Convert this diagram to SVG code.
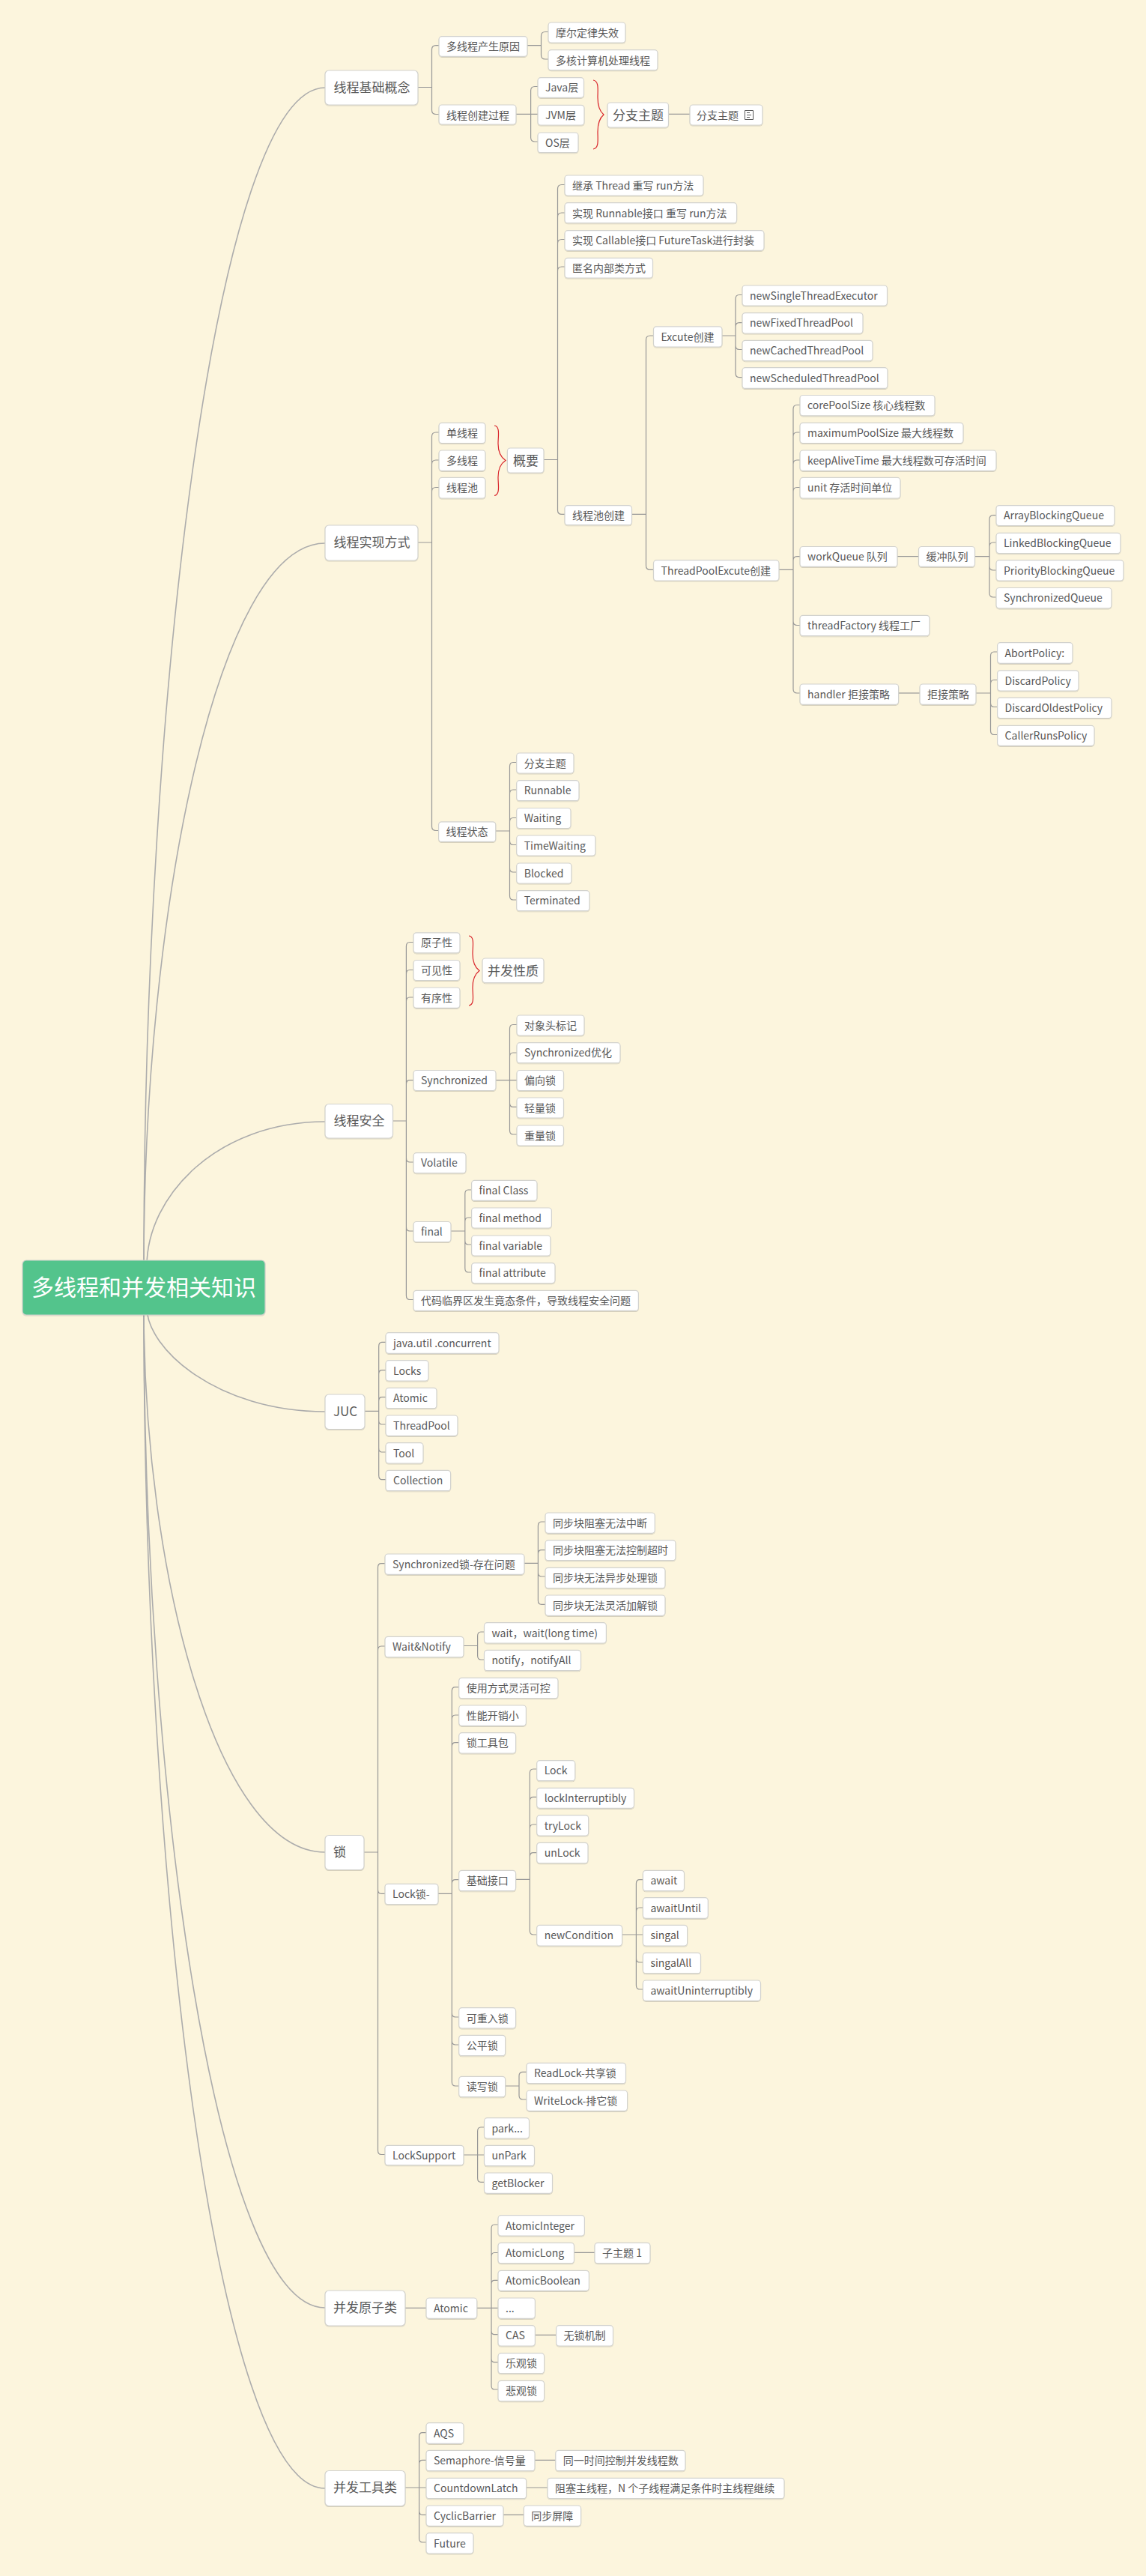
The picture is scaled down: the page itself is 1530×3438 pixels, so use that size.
<svg xmlns="http://www.w3.org/2000/svg" width="1530" height="3438" viewBox="0 0 1530 3438">
<style>
text{font-family:"Noto Sans CJK SC","Noto Sans",sans-serif;fill:#585858;font-size:14px}
.l1 text{font-size:17px}
.root text{font-size:30px;fill:#fff}
.n rect,.l1 rect{fill:#fff;stroke:#d2d2ce;stroke-width:1.2;filter:url(#sh)}
.root rect{fill:#52c48c}
#connectors path{fill:none;stroke:#979797;stroke-width:1.2}
#connectors .main{stroke:#acacac;stroke-width:1.6}
.brace{fill:none;stroke:#d9252b;stroke-width:1.2}
</style>
<defs><filter id="sh" x="-5%" y="-10%" width="110%" height="125%"><feDropShadow dx="0" dy="1" stdDeviation="0.5" flood-color="#000" flood-opacity="0.15"/></filter></defs>
<rect width="1530" height="3438" fill="#fcf5dd"/>
<g id="connectors">
<path class="main" d="M192,1690C192,919 290,117 434,117"/>
<path class="main" d="M192,1690C192,1217 290,725 434,725"/>
<path class="main" d="M196,1690C196,1596 290,1497 434,1497"/>
<path class="main" d="M196,1745C196,1800 290,1884 434,1884"/>
<path class="main" d="M192,1745C192,2101 290,2472 434,2472"/>
<path class="main" d="M192,1745C192,2399 290,3080 434,3080"/>
<path class="main" d="M192,1745C192,2517 290,3321 434,3321"/>
<path d="M558,116.5H576.5V66Q576.5,60.6 582,60.6H586M576.5,116.5V147Q576.5,152.5 582,152.5H586"/>
<path d="M704,60.6H722.5V48Q722.5,42.5 728,42.5H732M722.5,60.6V73.5Q722.5,79 728,79H732"/>
<path d="M689,152.3H718M708.6,152.3V121Q708.6,115.5 714,115.5H718M708.6,152.3V183.5Q708.6,189 714,189H718"/>
<path d="M892.5,152.3H921"/>
<path d="M558,724H576.5V582.5Q576.5,577 582,577H586M576.5,724V619.5Q576.5,614 582,614H586M576.5,724V656Q576.5,650.5 582,650.5H586M576.5,724V1103Q576.5,1108.5 582,1108.5H586"/>
<path d="M726,613.5H744.5V252Q744.5,246.5 750,246.5H754M744.5,613.5V289.5Q744.5,284 750,284H754M744.5,613.5V325Q744.5,319.5 750,319.5H754M744.5,613.5V361.5Q744.5,356 750,356H754M744.5,613.5V681Q744.5,686.4 750,686.4H754"/>
<path d="M843.5,686.4H862.5V453.5Q862.5,448 868,448H872.5M862.5,686.4V755Q862.5,760.4 868,760.4H872.5"/>
<path d="M964,448H982V399Q982,393.5 987,393.5H991M982,448V436Q982,430.6 987,430.6H991M982,448V461Q982,466.5 987,466.5H991M982,448V498Q982,503.6 987,503.6H991"/>
<path d="M1040,760.4H1059V546Q1059,540.5 1064,540.5H1068M1059,760.4V582.5Q1059,577 1064,577H1068M1059,760.4V619.5Q1059,614 1064,614H1068M1059,760.4V656Q1059,650.5 1064,650.5H1068M1059,760.4V748Q1059,742.6 1064,742.6H1068M1059,760.4V829Q1059,834.5 1064,834.5H1068M1059,760.4V919.5Q1059,925 1064,925H1068"/>
<path d="M1198,742.6H1226.5"/>
<path d="M1301.5,742.6H1321V693Q1321,687.6 1326,687.6H1330M1321,742.6V729.5Q1321,724 1326,724H1330M1321,742.6V755.5Q1321,761 1326,761H1330M1321,742.6V791.5Q1321,797 1326,797H1330"/>
<path d="M1199.6,925H1228"/>
<path d="M1303,925H1322.5V875.5Q1322.5,870 1327,870H1331.6M1322.5,925V913Q1322.5,907.5 1327,907.5H1331.6M1322.5,925V938Q1322.5,943.5 1327,943.5H1331.6M1322.5,925V975Q1322.5,980.5 1327,980.5H1331.6"/>
<path d="M662,1109H680.5V1023Q680.5,1017.5 685,1017.5H689.7M680.5,1109V1059.5Q680.5,1054 685,1054H689.7M680.5,1109V1097Q680.5,1091.5 685,1091.5H689.7M680.5,1109V1122Q680.5,1127.5 685,1127.5H689.7M680.5,1109V1158.5Q680.5,1164 685,1164H689.7M680.5,1109V1195.5Q680.5,1201 685,1201H689.7"/>
<path d="M524.4,1496H542.4V1263Q542.4,1257.5 547,1257.5H552M542.4,1496V1300Q542.4,1294.5 547,1294.5H552M542.4,1496V1336.5Q542.4,1331 547,1331H552M542.4,1496V1447Q542.4,1441.7 547,1441.7H552M542.4,1496V1545.5Q542.4,1551 547,1551H552M542.4,1496V1637.5Q542.4,1643 547,1643H552M542.4,1496V1729Q542.4,1734.5 547,1734.5H552"/>
<path d="M662,1441.7H690M680.5,1441.7V1373Q680.5,1367.5 685,1367.5H690M680.5,1441.7V1410.5Q680.5,1405 685,1405H690M680.5,1441.7V1472Q680.5,1477.4 685,1477.4H690M680.5,1441.7V1508.5Q680.5,1514 685,1514H690"/>
<path d="M602,1643H620.8V1593.5Q620.8,1588 625,1588H629.6M620.8,1643V1630.5Q620.8,1625 625,1625H629.6M620.8,1643V1655.5Q620.8,1661 625,1661H629.6M620.8,1643V1692.5Q620.8,1698 625,1698H629.6"/>
<path d="M487,1883.3H505.7V1797Q505.7,1791.3 510,1791.3H515M505.7,1883.3V1834Q505.7,1828.7 510,1828.7H515M505.7,1883.3V1870Q505.7,1864.7 510,1864.7H515M505.7,1883.3V1895.5Q505.7,1901 510,1901H515M505.7,1883.3V1932.5Q505.7,1938 510,1938H515M505.7,1883.3V1969Q505.7,1974.7 510,1974.7H515"/>
<path d="M486,2472H504.5V2092Q504.5,2086.7 509,2086.7H514M504.5,2472V2202.5Q504.5,2197 509,2197H514M504.5,2472V2522Q504.5,2527.3 509,2527.3H514M504.5,2472V2870Q504.5,2875.5 509,2875.5H514"/>
<path d="M700,2086.3H718.4V2036.5Q718.4,2031 723,2031H728M718.4,2086.3V2074Q718.4,2068.7 723,2068.7H728M718.4,2086.3V2098.5Q718.4,2104 723,2104H728M718.4,2086.3V2136Q718.4,2141.3 723,2141.3H728"/>
<path d="M619,2196.5H637.6V2183.5Q637.6,2178 642,2178H646.5M637.6,2196.5V2209.5Q637.6,2215 642,2215H646.5"/>
<path d="M585,2527.3H603.3V2257Q603.3,2251.7 608,2251.7H612.7M603.3,2527.3V2294.5Q603.3,2289 608,2289H612.7M603.3,2527.3V2331Q603.3,2325.7 608,2325.7H612.7M603.3,2527.3V2514Q603.3,2508.7 608,2508.7H612.7M603.3,2527.3V2686.5Q603.3,2692 608,2692H612.7M603.3,2527.3V2723.5Q603.3,2729 608,2729H612.7M603.3,2527.3V2778.5Q603.3,2784 608,2784H612.7"/>
<path d="M688.6,2508.3H707.3V2366.5Q707.3,2361 712,2361H716.7M707.3,2508.3V2403.5Q707.3,2398.3 712,2398.3H716.7M707.3,2508.3V2440.5Q707.3,2435 712,2435H716.7M707.3,2508.3V2478Q707.3,2472.7 712,2472.7H716.7M707.3,2508.3V2576.5Q707.3,2582 712,2582H716.7"/>
<path d="M830.6,2582H858.4M849.4,2582V2514Q849.4,2508.7 854,2508.7H858.4M849.4,2582V2551.5Q849.4,2546 854,2546H858.4M849.4,2582V2613.5Q849.4,2619 854,2619H858.4M849.4,2582V2649.5Q849.4,2655 854,2655H858.4"/>
<path d="M674.7,2784H693V2770.5Q693,2765.3 698,2765.3H703M693,2784V2796.5Q693,2802 698,2802H703"/>
<path d="M619,2876H646.5M637.6,2876V2844.5Q637.6,2839 642,2839H646.5M637.6,2876V2907Q637.6,2912.3 642,2912.3H646.5"/>
<path d="M541,3080.3H569"/>
<path d="M636.8,3080.3H665M656,3080.3V2974.5Q656,2969 660,2969H665M656,3080.3V3012Q656,3006.5 660,3006.5H665M656,3080.3V3048.5Q656,3043.3 660,3043.3H665M656,3080.3V3110.5Q656,3115.7 660,3115.7H665M656,3080.3V3147.5Q656,3152.7 660,3152.7H665M656,3080.3V3183.5Q656,3189 660,3189H665"/>
<path d="M766.5,3006.3H794M714.4,3116.3H742.6"/>
<path d="M541,3320H569M559.6,3320V3252Q559.6,3246.7 564,3246.7H569M559.6,3320V3288.5Q559.6,3283.3 564,3283.3H569M559.6,3320V3351Q559.6,3356.3 564,3356.3H569M559.6,3320V3387.5Q559.6,3393 564,3393H569"/>
<path d="M714,3283.3H741.8M702.7,3320H731M672,3356.3H699.3"/>
</g>
<path class="brace" d="M792,107C800,108 798,120 798,130C798,140 800,148 806,153C800,158 798,166 798,176C798,186 800,198 792,199"/>
<path class="brace" d="M660,568C668,569 665,582 665,592C665,602 668,610 675,614.5C668,619 665,627 665,637C665,647 668,660 660,661.5"/>
<path class="brace" d="M626,1249C634,1250 631,1263 631,1273C631,1283 634,1291 640,1295.5C634,1300 631,1308 631,1318C631,1328 634,1341 626,1342"/>
<g id="root" class="l1 root"><rect x="30" y="1682" width="324" height="73" rx="5"/><text x="42" y="1729">多线程和并发相关知识</text></g>
<g id="a1" class="l1"><rect x="434" y="94" width="124" height="46" rx="5"/><text x="445.5" y="122.5">线程基础概念</text></g>
<g id="a2" class="l1"><rect x="434" y="701" width="124" height="47" rx="5"/><text x="445.5" y="730">线程实现方式</text></g>
<g id="a3" class="l1"><rect x="434" y="1473.5" width="90.5" height="45.5" rx="5"/><text x="445.5" y="1502">线程安全</text></g>
<g id="a4" class="l1"><rect x="434" y="1861" width="53" height="46.5" rx="5"/><text x="445" y="1890">JUC</text></g>
<g id="a5" class="l1"><rect x="434" y="2449.5" width="52" height="46" rx="5"/><text x="445" y="2478">锁</text></g>
<g id="a6" class="l1"><rect x="434" y="3057" width="107" height="47" rx="5"/><text x="445" y="3086">并发原子类</text></g>
<g id="a7" class="l1"><rect x="434" y="3297.5" width="107" height="47" rx="5"/><text x="445" y="3326">并发工具类</text></g>
<g id="b1" class="n"><rect x="586" y="48.7" width="118" height="26.6" rx="4"/><text x="596" y="67">多线程产生原因</text></g>
<g id="b2" class="n"><rect x="732" y="30" width="103" height="27" rx="4"/><text x="742" y="48.5">摩尔定律失效</text></g>
<g id="b3" class="n"><rect x="732" y="66.7" width="146" height="27" rx="4"/><text x="742" y="85.5">多核计算机处理线程</text></g>
<g id="b4" class="n"><rect x="586" y="140" width="103" height="26" rx="4"/><text x="596" y="158.5">线程创建过程</text></g>
<g id="b5" class="n"><rect x="718" y="103.7" width="61.5" height="26.6" rx="4"/><text x="728" y="122">Java层</text></g>
<g id="b6" class="n"><rect x="718" y="140.3" width="62" height="26.7" rx="4"/><text x="728" y="158.5">JVM层</text></g>
<g id="b7" class="n"><rect x="718" y="177" width="54" height="26.7" rx="4"/><text x="728" y="195.5">OS层</text></g>
<g id="b8" class="l1"><rect x="811" y="137" width="81.5" height="33" rx="4"/><text x="818" y="159.5">分支主题</text></g>
<g id="b9" class="n"><rect x="921" y="140" width="97" height="27" rx="4"/><text x="930" y="158.5">分支主题</text><path d="M994.5,147.5H1005.5V159.5H994.5ZM997,150.5H1001M997,153.5H1003M997,156.5H1001" fill="none" stroke="#585858" stroke-width="1"/></g>
<g id="c1" class="n"><rect x="754" y="234" width="185" height="27" rx="4"/><text x="764" y="252.5">继承 Thread 重写 run方法</text></g>
<g id="c2" class="n"><rect x="754" y="270.7" width="229.6" height="27" rx="4"/><text x="764" y="289.5">实现 Runnable接口 重写 run方法</text></g>
<g id="c3" class="n"><rect x="754" y="307.7" width="266" height="26.6" rx="4"/><text x="764" y="326">实现 Callable接口 FutureTask进行封装</text></g>
<g id="c4" class="n"><rect x="754" y="344.3" width="117.5" height="26.7" rx="4"/><text x="764" y="362.5">匿名内部类方式</text></g>
<g id="c5" class="n"><rect x="991" y="381" width="193.5" height="27" rx="4"/><text x="1001" y="399.5">newSingleThreadExecutor</text></g>
<g id="c6" class="n"><rect x="991" y="417.6" width="161" height="27.4" rx="4"/><text x="1001" y="436">newFixedThreadPool</text></g>
<g id="c7" class="n"><rect x="991" y="454.3" width="174" height="27.3" rx="4"/><text x="1001" y="473">newCachedThreadPool</text></g>
<g id="c8" class="n"><rect x="991" y="490.7" width="194" height="27.7" rx="4"/><text x="1001" y="509.5">newScheduledThreadPool</text></g>
<g id="c9" class="n"><rect x="872.5" y="435.8" width="91.5" height="27.2" rx="4"/><text x="882.5" y="454.5">Excute创建</text></g>
<g id="c10" class="n"><rect x="754" y="674.6" width="89.5" height="26.1" rx="4"/><text x="764" y="692.5">线程池创建</text></g>
<g id="c11" class="n"><rect x="872.5" y="747.7" width="167.5" height="27.3" rx="4"/><text x="882.5" y="766.5">ThreadPoolExcute创建</text></g>
<g id="c12" class="n"><rect x="1068" y="527.5" width="180" height="27.3" rx="4"/><text x="1078" y="546">corePoolSize 核心线程数</text></g>
<g id="c13" class="n"><rect x="1068" y="564.3" width="218" height="27.2" rx="4"/><text x="1078" y="583">maximumPoolSize 最大线程数</text></g>
<g id="c14" class="n"><rect x="1068" y="601" width="262" height="27.3" rx="4"/><text x="1078" y="619.5">keepAliveTime 最大线程数可存活时间</text></g>
<g id="c15" class="n"><rect x="1068" y="637.4" width="134" height="27.6" rx="4"/><text x="1078" y="656">unit 存活时间单位</text></g>
<g id="c16" class="n"><rect x="1068" y="729.5" width="130" height="26.9" rx="4"/><text x="1078" y="748">workQueue 队列</text></g>
<g id="c17" class="n"><rect x="1226.5" y="729.5" width="75" height="26.9" rx="4"/><text x="1236.5" y="748">缓冲队列</text></g>
<g id="c18" class="n"><rect x="1330" y="674.6" width="158" height="26.9" rx="4"/><text x="1340" y="693">ArrayBlockingQueue</text></g>
<g id="c19" class="n"><rect x="1330" y="711.4" width="166" height="27.2" rx="4"/><text x="1340" y="730">LinkedBlockingQueue</text></g>
<g id="c20" class="n"><rect x="1330" y="747.7" width="170" height="27.3" rx="4"/><text x="1340" y="766.5">PriorityBlockingQueue</text></g>
<g id="c21" class="n"><rect x="1330" y="784.5" width="154" height="27.3" rx="4"/><text x="1340" y="803">SynchronizedQueue</text></g>
<g id="c22" class="n"><rect x="1068" y="821.3" width="173" height="27.3" rx="4"/><text x="1078" y="840">threadFactory 线程工厂</text></g>
<g id="c23" class="n"><rect x="1068" y="913" width="131.6" height="27.3" rx="4"/><text x="1078" y="931.5">handler 拒接策略</text></g>
<g id="c24" class="n"><rect x="1228" y="913" width="75" height="27.3" rx="4"/><text x="1238" y="931.5">拒接策略</text></g>
<g id="c25" class="n"><rect x="1331.6" y="857.7" width="100.4" height="27.6" rx="4"/><text x="1341.6" y="876.5">AbortPolicy:</text></g>
<g id="c26" class="n"><rect x="1331.6" y="894.8" width="108.4" height="27.2" rx="4"/><text x="1341.6" y="913.5">DiscardPolicy</text></g>
<g id="c27" class="n"><rect x="1331.6" y="931.2" width="152.4" height="27.3" rx="4"/><text x="1341.6" y="950">DiscardOldestPolicy</text></g>
<g id="c28" class="n"><rect x="1331.6" y="968.4" width="129.4" height="26.9" rx="4"/><text x="1341.6" y="987">CallerRunsPolicy</text></g>
<g id="c29" class="n"><rect x="586" y="564.3" width="62" height="27.2" rx="4"/><text x="596" y="583">单线程</text></g>
<g id="c30" class="n"><rect x="586" y="601" width="62" height="27.3" rx="4"/><text x="596" y="619.5">多线程</text></g>
<g id="c31" class="n"><rect x="586" y="637.4" width="62" height="27.6" rx="4"/><text x="596" y="656">线程池</text></g>
<g id="c32" class="l1"><rect x="677.4" y="598" width="48.6" height="33" rx="4"/><text x="685" y="620.5">概要</text></g>
<g id="d1" class="n"><rect x="585.6" y="1096.8" width="76.2" height="26.6" rx="4"/><text x="595.6" y="1115">线程状态</text></g>
<g id="d2" class="n"><rect x="689.7" y="1005" width="76.3" height="27" rx="4"/><text x="699.7" y="1023.5">分支主题</text></g>
<g id="d3" class="n"><rect x="689.7" y="1041.7" width="83.3" height="27" rx="4"/><text x="699.7" y="1060">Runnable</text></g>
<g id="d4" class="n"><rect x="689.7" y="1078.5" width="72.3" height="27" rx="4"/><text x="699.7" y="1097">Waiting</text></g>
<g id="d5" class="n"><rect x="689.7" y="1115" width="105.3" height="27" rx="4"/><text x="699.7" y="1133.5">TimeWaiting</text></g>
<g id="d6" class="n"><rect x="689.7" y="1152" width="73.3" height="27" rx="4"/><text x="699.7" y="1170.5">Blocked</text></g>
<g id="d7" class="n"><rect x="689.7" y="1188.7" width="97.3" height="27" rx="4"/><text x="699.7" y="1207">Terminated</text></g>
<g id="e1" class="n"><rect x="552" y="1244.8" width="62" height="27" rx="4"/><text x="562" y="1263">原子性</text></g>
<g id="e2" class="n"><rect x="552" y="1281.5" width="62" height="27" rx="4"/><text x="562" y="1300">可见性</text></g>
<g id="e3" class="n"><rect x="552" y="1318" width="62" height="27.3" rx="4"/><text x="562" y="1336.5">有序性</text></g>
<g id="e4" class="l1"><rect x="644" y="1279" width="82" height="32.6" rx="4"/><text x="651" y="1301.5">并发性质</text></g>
<g id="e5" class="n"><rect x="552" y="1428.5" width="110" height="27" rx="4"/><text x="562" y="1447">Synchronized</text></g>
<g id="e6" class="n"><rect x="690" y="1355" width="90" height="27" rx="4"/><text x="700" y="1373.5">对象头标记</text></g>
<g id="e7" class="n"><rect x="690" y="1391.7" width="138" height="27" rx="4"/><text x="700" y="1410">Synchronized优化</text></g>
<g id="e8" class="n"><rect x="690" y="1428.5" width="62.5" height="27" rx="4"/><text x="700" y="1447">偏向锁</text></g>
<g id="e9" class="n"><rect x="690" y="1465" width="62.5" height="27" rx="4"/><text x="700" y="1483.5">轻量锁</text></g>
<g id="e10" class="n"><rect x="690" y="1502" width="62.5" height="27" rx="4"/><text x="700" y="1520.5">重量锁</text></g>
<g id="e11" class="n"><rect x="552" y="1538.7" width="70" height="27" rx="4"/><text x="562" y="1557">Volatile</text></g>
<g id="e12" class="n"><rect x="552" y="1630.5" width="50" height="27" rx="4"/><text x="562" y="1649">final</text></g>
<g id="e13" class="n"><rect x="629.6" y="1575.4" width="87.4" height="27" rx="4"/><text x="639.6" y="1594">final Class</text></g>
<g id="e14" class="n"><rect x="629.6" y="1612" width="106.8" height="27" rx="4"/><text x="639.6" y="1630.5">final method</text></g>
<g id="e15" class="n"><rect x="629.6" y="1649" width="105.4" height="27" rx="4"/><text x="639.6" y="1667.5">final variable</text></g>
<g id="e16" class="n"><rect x="629.6" y="1685.6" width="111.4" height="27" rx="4"/><text x="639.6" y="1704">final attribute</text></g>
<g id="e17" class="n"><rect x="552" y="1722.3" width="300.4" height="27.1" rx="4"/><text x="562" y="1741">代码临界区发生竟态条件，导致线程安全问题</text></g>
<g id="f1" class="n"><rect x="515" y="1778.7" width="151" height="27.6" rx="4"/><text x="525" y="1797.5">java.util .concurrent</text></g>
<g id="f2" class="n"><rect x="515" y="1815.7" width="57" height="27.3" rx="4"/><text x="525" y="1834.5">Locks</text></g>
<g id="f3" class="n"><rect x="515" y="1852.3" width="68" height="27.4" rx="4"/><text x="525" y="1871">Atomic</text></g>
<g id="f4" class="n"><rect x="515" y="1889" width="96" height="27.3" rx="4"/><text x="525" y="1907.5">ThreadPool</text></g>
<g id="f5" class="n"><rect x="515" y="1925.7" width="50" height="27.3" rx="4"/><text x="525" y="1944.5">Tool</text></g>
<g id="f6" class="n"><rect x="515" y="1962.3" width="86.6" height="27.4" rx="4"/><text x="525" y="1981">Collection</text></g>
<g id="g1" class="n"><rect x="514" y="2074" width="186" height="27.3" rx="4"/><text x="524" y="2092.5">Synchronized锁-存在问题</text></g>
<g id="g2" class="n"><rect x="728" y="2019" width="146.3" height="27.3" rx="4"/><text x="738" y="2037.5">同步块阻塞无法中断</text></g>
<g id="g3" class="n"><rect x="728" y="2055.7" width="174" height="27" rx="4"/><text x="738" y="2074">同步块阻塞无法控制超时</text></g>
<g id="g4" class="n"><rect x="728" y="2092.3" width="160" height="27.4" rx="4"/><text x="738" y="2111">同步块无法异步处理锁</text></g>
<g id="g5" class="n"><rect x="728" y="2129" width="160" height="27.3" rx="4"/><text x="738" y="2147.5">同步块无法灵活加解锁</text></g>
<g id="g6" class="n"><rect x="514" y="2184.3" width="105" height="27.4" rx="4"/><text x="524" y="2203">Wait&amp;Notify</text></g>
<g id="g7" class="n"><rect x="646.5" y="2165.7" width="162.9" height="27.3" rx="4"/><text x="656.5" y="2184.5">wait，wait(long time)</text></g>
<g id="g8" class="n"><rect x="646.5" y="2202.3" width="129" height="27.4" rx="4"/><text x="656.5" y="2221">notify，notifyAll</text></g>
<g id="g9" class="n"><rect x="514" y="2514.3" width="71" height="27.4" rx="4"/><text x="524" y="2533">Lock锁-</text></g>
<g id="g10" class="n"><rect x="612.7" y="2239.3" width="132.3" height="27.4" rx="4"/><text x="622.7" y="2258">使用方式灵活可控</text></g>
<g id="g11" class="n"><rect x="612.7" y="2276" width="89.7" height="27.3" rx="4"/><text x="622.7" y="2294.5">性能开销小</text></g>
<g id="g12" class="n"><rect x="612.7" y="2312.7" width="75.9" height="27.3" rx="4"/><text x="622.7" y="2331">锁工具包</text></g>
<g id="g13" class="n"><rect x="612.7" y="2496.3" width="75.9" height="27.4" rx="4"/><text x="622.7" y="2515">基础接口</text></g>
<g id="g14" class="n"><rect x="716.7" y="2349.7" width="51.1" height="27" rx="4"/><text x="726.7" y="2368">Lock</text></g>
<g id="g15" class="n"><rect x="716.7" y="2386.3" width="129.8" height="27" rx="4"/><text x="726.7" y="2405">lockInterruptibly</text></g>
<g id="g16" class="n"><rect x="716.7" y="2422.7" width="69" height="27.3" rx="4"/><text x="726.7" y="2441.5">tryLock</text></g>
<g id="g17" class="n"><rect x="716.7" y="2459.3" width="68.3" height="27.4" rx="4"/><text x="726.7" y="2478">unLock</text></g>
<g id="g18" class="n"><rect x="716.7" y="2569.3" width="113.9" height="27.7" rx="4"/><text x="726.7" y="2588">newCondition</text></g>
<g id="g19" class="n"><rect x="858.4" y="2496.3" width="55.1" height="27.4" rx="4"/><text x="868.4" y="2515">await</text></g>
<g id="g20" class="n"><rect x="858.4" y="2532.7" width="86.9" height="27.6" rx="4"/><text x="868.4" y="2551.5">awaitUntil</text></g>
<g id="g21" class="n"><rect x="858.4" y="2569.3" width="59.2" height="27.7" rx="4"/><text x="868.4" y="2588">singal</text></g>
<g id="g22" class="n"><rect x="858.4" y="2606.3" width="77.1" height="27.4" rx="4"/><text x="868.4" y="2625">singalAll</text></g>
<g id="g23" class="n"><rect x="858.4" y="2643" width="157.1" height="27.3" rx="4"/><text x="868.4" y="2661.5">awaitUninterruptibly</text></g>
<g id="g24" class="n"><rect x="612.7" y="2679.7" width="75.9" height="27.3" rx="4"/><text x="622.7" y="2698.5">可重入锁</text></g>
<g id="g25" class="n"><rect x="612.7" y="2716.3" width="62" height="27.4" rx="4"/><text x="622.7" y="2735">公平锁</text></g>
<g id="g26" class="n"><rect x="612.7" y="2771.3" width="62" height="27.4" rx="4"/><text x="622.7" y="2790">读写锁</text></g>
<g id="g27" class="n"><rect x="703" y="2753.3" width="132.5" height="27.4" rx="4"/><text x="713" y="2772">ReadLock-共享锁</text></g>
<g id="g28" class="n"><rect x="703" y="2790" width="134.6" height="27.3" rx="4"/><text x="713" y="2808.5">WriteLock-排它锁</text></g>
<g id="g29" class="n"><rect x="514" y="2863.3" width="105" height="26.4" rx="4"/><text x="524" y="2881.5">LockSupport</text></g>
<g id="g30" class="n"><rect x="646.5" y="2826.7" width="60" height="27.3" rx="4"/><text x="656.5" y="2845.5">park...</text></g>
<g id="g31" class="n"><rect x="646.5" y="2863.3" width="67" height="27.4" rx="4"/><text x="656.5" y="2882">unPark</text></g>
<g id="g32" class="n"><rect x="646.5" y="2900" width="91" height="27.3" rx="4"/><text x="656.5" y="2918.5">getBlocker</text></g>
<g id="h1" class="n"><rect x="569" y="3067" width="67.8" height="27.3" rx="4"/><text x="579" y="3086">Atomic</text></g>
<g id="h2" class="n"><rect x="665" y="2956.7" width="115.4" height="27.3" rx="4"/><text x="675" y="2975.5">AtomicInteger</text></g>
<g id="h3" class="n"><rect x="665" y="2993.3" width="101.5" height="27.4" rx="4"/><text x="675" y="3012">AtomicLong</text></g>
<g id="h4" class="n"><rect x="794" y="2993.3" width="74" height="27.4" rx="4"/><text x="804" y="3012">子主题 1</text></g>
<g id="h5" class="n"><rect x="665" y="3030.3" width="121.4" height="27" rx="4"/><text x="675" y="3049">AtomicBoolean</text></g>
<g id="h6" class="n"><rect x="665" y="3067" width="49.4" height="27.3" rx="4"/><text x="675" y="3086">...</text></g>
<g id="h7" class="n"><rect x="665" y="3103.7" width="49.4" height="27.3" rx="4"/><text x="675" y="3122">CAS</text></g>
<g id="h8" class="n"><rect x="742.6" y="3103.7" width="75.9" height="27.3" rx="4"/><text x="752.6" y="3122">无锁机制</text></g>
<g id="h9" class="n"><rect x="665" y="3140.7" width="61.6" height="27" rx="4"/><text x="675" y="3159">乐观锁</text></g>
<g id="h10" class="n"><rect x="665" y="3177.3" width="61.6" height="27.4" rx="4"/><text x="675" y="3196">悲观锁</text></g>
<g id="i1" class="n"><rect x="569" y="3233.7" width="50" height="27.6" rx="4"/><text x="579" y="3252.5">AQS</text></g>
<g id="i2" class="n"><rect x="569" y="3270.3" width="145" height="27.4" rx="4"/><text x="579" y="3289">Semaphore-信号量</text></g>
<g id="i3" class="n"><rect x="741.8" y="3270.3" width="173.2" height="27.4" rx="4"/><text x="751.8" y="3289">同一时间控制并发线程数</text></g>
<g id="i4" class="n"><rect x="569" y="3307.3" width="133.7" height="27.4" rx="4"/><text x="579" y="3326">CountdownLatch</text></g>
<g id="i5" class="n"><rect x="731" y="3307.3" width="316" height="27.4" rx="4"/><text x="741" y="3326">阻塞主线程，N 个子线程满足条件时主线程继续</text></g>
<g id="i6" class="n"><rect x="569" y="3344" width="103" height="27.3" rx="4"/><text x="579" y="3362.5">CyclicBarrier</text></g>
<g id="i7" class="n"><rect x="699.3" y="3344" width="76.3" height="27.3" rx="4"/><text x="709.3" y="3362.5">同步屏障</text></g>
<g id="i8" class="n"><rect x="569" y="3380.7" width="63" height="27.3" rx="4"/><text x="579" y="3399.5">Future</text></g>
</svg>
